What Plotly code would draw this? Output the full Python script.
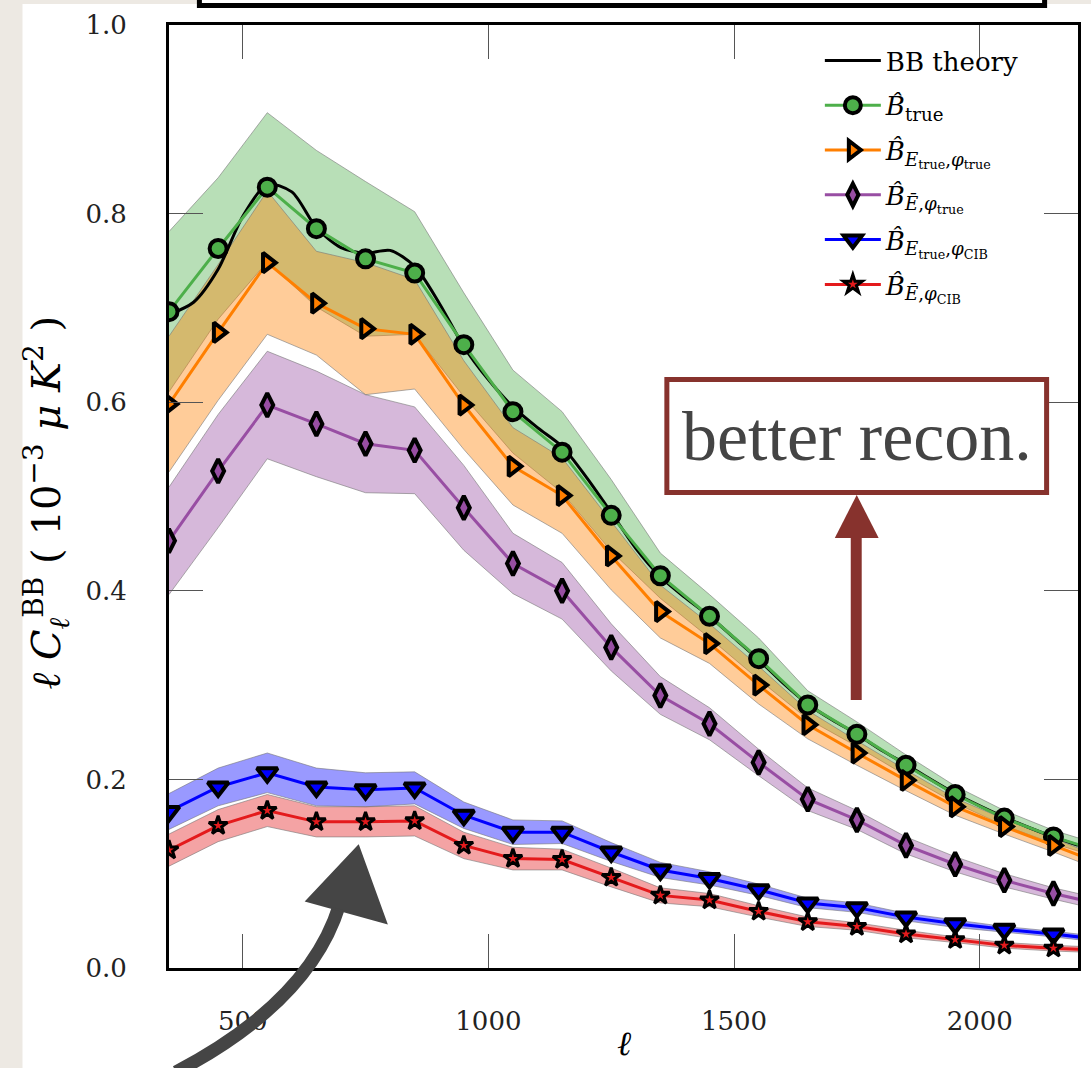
import plotly.graph_objects as go

# Multipole centres of the bandpowers (last one sits just past the right edge)
ell = [350, 450, 550, 650, 750, 850, 950, 1050, 1150, 1250,
       1350, 1450, 1550, 1650, 1750, 1850, 1950, 2050, 2150, 2250]

# Reconstructed B-mode bandpowers, ell*C_ell in 1e-3 muK^2, with 1-sigma scatter
b_true = [0.696, 0.763, 0.828, 0.784, 0.752, 0.737, 0.661, 0.590, 0.547, 0.480,
          0.416, 0.373, 0.328, 0.279, 0.248, 0.215, 0.184, 0.159, 0.139, 0.123]
b_true_err = [0.085, 0.075, 0.079, 0.083, 0.082, 0.065, 0.055, 0.044, 0.043, 0.038,
              0.024, 0.023, 0.022, 0.015, 0.013, 0.011, 0.009, 0.008, 0.007, 0.007]

b_etrue_phitrue = [0.598, 0.674, 0.748, 0.705, 0.678, 0.672, 0.597, 0.532, 0.501, 0.437,
                   0.378, 0.344, 0.300, 0.258, 0.228, 0.199, 0.171, 0.150, 0.130, 0.110]
b_etrue_phitrue_err = [0.072, 0.072, 0.076, 0.055, 0.070, 0.058, 0.047, 0.041, 0.040, 0.036,
                       0.028, 0.021, 0.020, 0.015, 0.013, 0.011, 0.009, 0.008, 0.007, 0.007]

b_ebar_phitrue = [0.453, 0.527, 0.597, 0.577, 0.556, 0.549, 0.488, 0.429, 0.400, 0.340,
                  0.289, 0.259, 0.218, 0.179, 0.157, 0.130, 0.110, 0.093, 0.079, 0.067]
b_ebar_phitrue_err = [0.057, 0.060, 0.057, 0.056, 0.052, 0.046, 0.045, 0.032, 0.030, 0.025,
                      0.020, 0.017, 0.014, 0.012, 0.010, 0.009, 0.008, 0.007, 0.006, 0.006]

b_etrue_phicib = [0.166, 0.192, 0.207, 0.192, 0.189, 0.191, 0.162, 0.144, 0.144, 0.123,
                  0.104, 0.095, 0.083, 0.069, 0.064, 0.054, 0.047, 0.041, 0.036, 0.030]
b_etrue_phicib_err = [0.019, 0.020, 0.021, 0.020, 0.018, 0.017, 0.014, 0.013, 0.012, 0.010,
                      0.008, 0.007, 0.006, 0.005, 0.005, 0.004, 0.004, 0.003, 0.003, 0.003]

b_ebar_phicib = [0.125, 0.151, 0.167, 0.155, 0.155, 0.156, 0.130, 0.116, 0.115, 0.096,
                 0.077, 0.072, 0.060, 0.049, 0.044, 0.036, 0.030, 0.024, 0.021, 0.019]
b_ebar_phicib_err = [0.017, 0.017, 0.017, 0.016, 0.016, 0.016, 0.014, 0.012, 0.011, 0.010,
                     0.008, 0.007, 0.006, 0.005, 0.004, 0.004, 0.003, 0.003, 0.003, 0.003]

# Lensing BB theory spectrum, sampled finely
theory_ell = [350, 400, 450, 500, 550, 600, 650, 700, 750, 800, 850, 900, 950, 1000,
              1050, 1100, 1150, 1200, 1250, 1300, 1350, 1400, 1450, 1500, 1550, 1600,
              1650, 1700, 1750, 1800, 1850, 1900, 1950, 2000, 2050, 2100, 2150, 2200]
theory_bb = [0.693, 0.706, 0.741, 0.797, 0.831, 0.823, 0.785, 0.764, 0.758, 0.761,
             0.744, 0.705, 0.659, 0.624, 0.595, 0.573, 0.553, 0.520, 0.483, 0.445,
             0.415, 0.393, 0.373, 0.350, 0.327, 0.302, 0.280, 0.263, 0.248, 0.231,
             0.216, 0.200, 0.185, 0.172, 0.160, 0.149, 0.139, 0.130]

x_ticks = [500, 1000, 1500, 2000]
y_ticks = [0.0, 0.2, 0.4, 0.6, 0.8, 1.0]

series = [
    dict(y=b_true, err=b_true_err, color="#4daf4a", band="rgba(77,175,74,0.4)",
         symbol="circle", size=17, edge=4,
         name="<i>B̂</i><sub>true</sub>"),
    dict(y=b_etrue_phitrue, err=b_etrue_phitrue_err, color="#ff7f00", band="rgba(255,127,0,0.4)",
         symbol="triangle-right", size=17, edge=4,
         name="<i>B̂</i><sub><i>E</i><sub>true</sub>,<i>φ</i><sub>true</sub></sub>"),
    dict(y=b_ebar_phitrue, err=b_ebar_phitrue_err, color="#984ea3", band="rgba(152,78,163,0.4)",
         symbol="diamond-tall", size=17, edge=4,
         name="<i>B̂</i><sub><i>Ē</i>,<i>φ</i><sub>true</sub></sub>"),
    dict(y=b_etrue_phicib, err=b_etrue_phicib_err, color="#0000ff", band="rgba(0,0,255,0.4)",
         symbol="triangle-down", size=18, edge=4,
         name="<i>B̂</i><sub><i>E</i><sub>true</sub>,<i>φ</i><sub>CIB</sub></sub>"),
    dict(y=b_ebar_phicib, err=b_ebar_phicib_err, color="#e41a1c", band="rgba(228,26,28,0.4)",
         symbol="star", size=14, edge=3,
         name="<i>B̂</i><sub><i>Ē</i>,<i>φ</i><sub>CIB</sub></sub>"),
]

fig = go.Figure()

# 1-sigma bands
for s in series:
    upper = [v + e for v, e in zip(s["y"], s["err"])]
    lower = [v - e for v, e in zip(s["y"], s["err"])]
    fig.add_trace(go.Scatter(
        x=ell + ell[::-1], y=upper + lower[::-1], mode="lines", fill="toself",
        fillcolor=s["band"], line=dict(color="rgba(120,120,120,0.6)", width=1),
        showlegend=False, hoverinfo="skip"))

# Theory curve
fig.add_trace(go.Scatter(
    x=theory_ell, y=theory_bb, mode="lines", name="BB theory",
    line=dict(color="black", width=3, shape="spline", smoothing=0.8),
    legendgroup="g0"))

# Reconstructed spectra
for i, s in enumerate(series):
    fig.add_trace(go.Scatter(
        x=ell, y=s["y"], mode="lines+markers", name=s["name"],
        line=dict(color=s["color"], width=3),
        marker=dict(symbol=s["symbol"], size=s["size"], color=s["color"],
                    line=dict(color="black", width=s["edge"])),
        legendgroup="g%d" % (i + 1)))

# Plot-area geometry in pixels (for placing decorations in paper units)
L, R, T, B = 169, 1081, 25, 968


def px(xp):
    return (xp - L) / (R - L)


def py(yp):
    return (B - yp) / (B - T)


dark_red = "#87322d"
pencil = "#454545"

shapes = [
    # white slide area over the textured background
    dict(type="rect", xref="paper", yref="paper", x0=px(22), x1=px(1100),
         y0=py(1080), y1=py(4), fillcolor="white", line=dict(width=0), layer="below"),
    # frame of the box above the chart
    dict(type="rect", xref="paper", yref="paper", x0=px(199.5), x1=px(1047.5),
         y0=py(5.5), y1=py(-30), fillcolor="white", line=dict(color="black", width=5)),
    # "better recon." box
    dict(type="rect", xref="paper", yref="paper", x0=px(668.5), x1=px(1049.5),
         y0=py(492.5), y1=py(379.5), fillcolor="white", line=dict(color=dark_red, width=5),
         layer="above"),
    # arrow under the box
    dict(type="rect", xref="paper", yref="paper", x0=px(853), x1=px(864),
         y0=py(700), y1=py(536), fillcolor=dark_red, line=dict(width=0), layer="above"),
    dict(type="path", xref="paper", yref="paper",
         path="M %f %f L %f %f L %f %f Z" % (px(837), py(538), px(881), py(538), px(859), py(495)),
         fillcolor=dark_red, line=dict(width=0), layer="above"),
    # hand-drawn arrow pointing at the CIB curves
    dict(type="path", xref="paper", yref="paper",
         path="M %f %f Q %f %f %f %f" % (px(176), py(1072), px(310), py(1002), px(340), py(905)),
         line=dict(color=pencil, width=13), layer="above"),
    dict(type="path", xref="paper", yref="paper",
         path="M %f %f L %f %f L %f %f Z" % (px(359), py(846), px(307), py(901), px(387), py(923)),
         fillcolor=pencil, line=dict(color=pencil, width=2), layer="above"),
]

annotations = [
    dict(text="better recon.", xref="paper", yref="paper", x=px(859), y=py(436),
         showarrow=False, font=dict(family="Liberation Serif", size=70, color="#444444"),
         xanchor="center", yanchor="middle"),
    dict(text="<i>ℓ</i>", xref="paper", yref="paper", x=px(625), y=py(1043),
         showarrow=False, font=dict(family="DejaVu Serif", size=34, color="black"),
         xanchor="center", yanchor="middle"),
    dict(text="<i>ℓ C</i><sub><i>ℓ</i></sub><sup>BB</sup> ( 10<sup>−3</sup> <i>μ K</i><sup>2</sup> )",
         xref="paper", yref="paper", x=px(46), y=py(502), textangle=-90,
         showarrow=False, font=dict(family="DejaVu Serif", size=40, color="black"),
         xanchor="center", yanchor="middle"),
]

axis_common = dict(
    showline=True, linecolor="black", linewidth=3, mirror="ticks",
    ticks="inside", ticklen=34, tickwidth=1, tickcolor="#555555",
    showgrid=False, zeroline=False,
    tickfont=dict(family="DejaVu Serif", size=26, color="#222222"),
)

fig.update_layout(
    width=1091, height=1068,
    margin=dict(l=L, r=1091 - R, t=T, b=1068 - B),
    paper_bgcolor="#ede9e3", plot_bgcolor="white",
    xaxis=dict(range=[350, 2200], tickvals=x_ticks, ticktext=[str(v) for v in x_ticks],
               ticklabelstandoff=28, **axis_common),
    yaxis=dict(range=[0, 1.0], tickvals=y_ticks, ticktext=["%.1f" % v for v in y_ticks],
               ticklabelstandoff=34, **axis_common),
    legend=dict(x=px(822), y=py(37), xanchor="left", yanchor="top",
                bgcolor="rgba(0,0,0,0)", borderwidth=0, itemwidth=56,
                tracegroupgap=8,
                font=dict(family="DejaVu Serif", size=26, color="black")),
    shapes=shapes, annotations=annotations,
    showlegend=True,
)

fig.write_html("out.html")
